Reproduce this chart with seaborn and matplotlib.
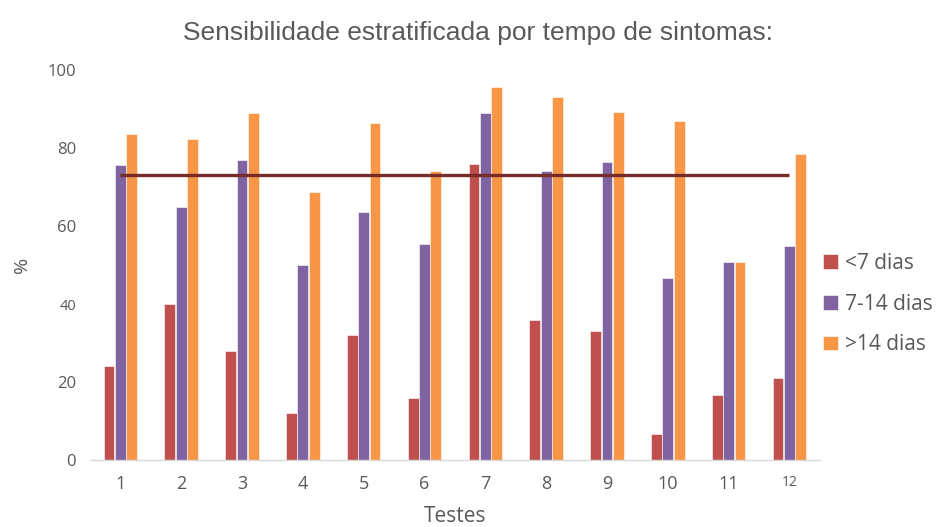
import numpy as np
import pandas as pd
import seaborn as sns
import matplotlib.pyplot as plt

sns.set_theme(style='white')
plt.rcParams['font.family'] = ['Open Sans', 'DejaVu Sans']

testes = [str(i) for i in range(1, 13)]
series = ['<7 dias', '7-14 dias', '>14 dias']
menos7 = [24, 40, 28, 12, 32, 16, 76, 36, 33, 6.8, 16.8, 21]
de7a14 = [75.6, 65, 77, 50, 63.5, 55.4, 89, 74, 76.4, 46.6, 50.8, 54.8]
mais14 = [83.6, 82.3, 89, 68.7, 86.5, 74.1, 95.7, 93.1, 89.2, 86.9, 50.8, 78.6]
media = 73

colors = ['#C0504D', '#8064A2', '#F79646']

df = pd.DataFrame({
    'teste': testes * 3,
    'grupo': [s for s in series for _ in testes],
    'valor': menos7 + de7a14 + mais14,
})

fig = plt.figure(figsize=(9.5, 5.27), dpi=100)
ax = fig.add_axes([0.0947, 0.127, 0.7683, 0.740])

sns.barplot(data=df, x='teste', y='valor', hue='grupo', order=testes,
            hue_order=series, palette=colors, saturation=1, width=0.56, gap=0.05,
            edgecolor='white', linewidth=0.4, ax=ax)

# linha horizontal da media, do centro do teste 1 ao centro do teste 12
ax.plot([0, len(testes) - 1], [media, media], color='#772C2A', lw=2.4, zorder=5,
        solid_capstyle='butt')

ax.set_xlim(-0.5, 11.5)
ax.set_ylim(0, 100)
ax.set_yticks([0, 20, 40, 60, 80, 100])
sns.despine(ax=ax, left=True)
ax.spines['bottom'].set_color('#D9D9D9')
ax.spines['bottom'].set_linewidth(1)
ax.tick_params(axis='y', length=0, labelsize=12, labelcolor='#595959', pad=10)
ax.tick_params(axis='x', length=0, labelsize=13, labelcolor='#595959', pad=11)
for lab in ax.get_yticklabels():
    if lab.get_text() == '40':
        lab.set_fontsize(10.5)
for lab in ax.get_xticklabels():
    if lab.get_text() == '12':
        lab.set_fontsize(10)

ax.set_xlabel('Testes', fontsize=15, color='#595959', labelpad=9)
ax.set_ylabel('%', fontsize=14, color='#595959', labelpad=12)
ax.set_title('Sensibilidade estratificada por tempo de sintomas:', x=0.531,
             fontsize=19, color='#595959', family='Liberation Sans', pad=22)

ax.legend(loc='center left', bbox_to_anchor=(0.99, 0.400), frameon=False,
          fontsize=15, labelcolor='#595959', handlelength=0.7, handleheight=0.7,
          handletextpad=0.35, labelspacing=0.95, borderaxespad=0.1)

fig.savefig('out.png', dpi=100)
